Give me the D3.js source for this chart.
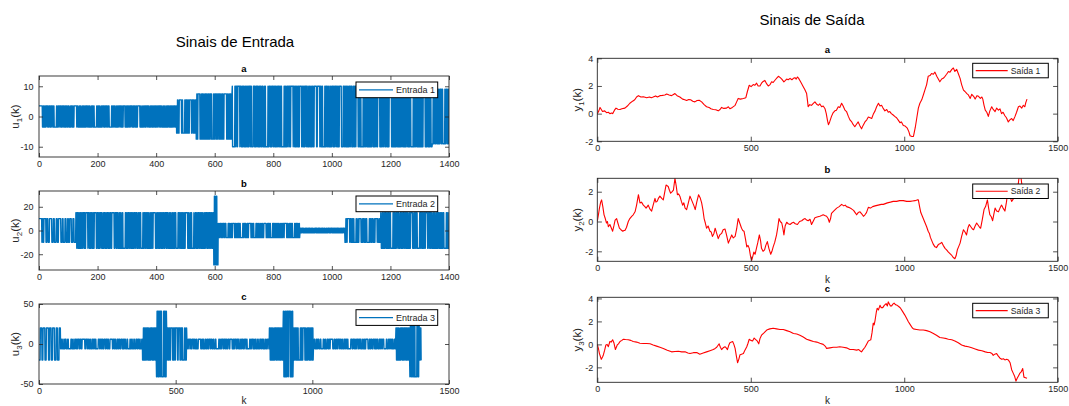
<!DOCTYPE html>
<html>
<head>
<meta charset="utf-8">
<script src="https://cdn.jsdelivr.net/npm/d3@7"></script>
<style>
  body { margin: 0; background: #fff; }
  svg { display: block; font-family: "Liberation Sans", Arial, Helvetica, sans-serif; }
</style>
</head>
<body>
<svg id="fig" width="1069" height="406"></svg>
<script>
// ---------- Sinais de entrada (PRBS com amplitude variável) ----------
// níveis: [k inicial, amplitude]
const entrada1Niveis = [[0, 3.5], [470, 5.5], [537, 7.5], [660, 10], [1343, 9]];
const entrada2Niveis = [[0, 10], [126, 15], [597, 29], [612, 6], [891, 2], [1045, 10], [1167, 15]];
const entrada3Niveis = [[0, 20], [79, 6], [379, 20], [430, 41], [467, 20], [541, 6], [843, 20],
                        [894, 41], [930, 20], [1004, 6], [1306, 20], [1357, 41], [1391, 20]];
// sinal do primeiro patamar de cada entrada
const entradaSinalInicial = [1, 1, -1];
// durações (em amostras, base 36) de cada patamar do sinal binário
const entrada1Runs = "c" + "3232241333221432" + "8" + "233241233133223334123223" + "9" +
  "134222423232232332412332" + "8" + "3322241341233133" + "38" + "2233341213423223" + "6" +
  "3232232314322332" + "38" + "3241332224134123313322333412134222423223323223232332" + "48" +
  "227" + "3232337" + "2413332227" + "41233133223334126" + "134222423223339" + "323223238" +
  "32417" + "14322332332224136" + "412331332233341228" + "13422242322332323228" + "23233241218" +
  "1432233227" + "332224134123313338" + "38" + "23327" + "223334121342224232237" + "6" +
  "3232232332411432317" + "23327" + "233233222413412331337" + "22333412134228" +
  "224232233232232332411432338" + "233233222413227" + "412331337" + "22333412134237" + "22423223";
const entrada2Runs = "a" + "232" + "7" + "345" + "8" + "54644" + "8" + "53645346546" +
  "323223233241" + "13" + "7" + "14322332" + "2" + "7" + "33222413412331332233" + "3" + "8" +
  "341213422242" + "8" + "32233232232332411432" + "3" + "7" + "233233222413" + "32" + "8" +
  "4123313322333412134222423223" + "7" + "32322323" + "23" + "8" + "3241" + "22" + "7" +
  "143223323322241341233133" + "33" + "2233341213422242" + "4" + "7" + "3223" + "23" + "7" +
  "32322323" + "8" + "32411432" + "8" + "2332" + "7" + "33222413" + "34" + "8" + "4123" + "23" + "7" +
  "3133223334121342" + "8" + "22423223" + "7" +
  "323223233241143223323322241341233133223334121342224232233232232332411432" + "8" +
  "2332" + "32" + "7" + "2413" + "7" + "41233133" + "8" + "22333412" + "7" +
  "1342224232233232" + "33" + "8" + "232332411432233233222413" + "7" + "4123" + "33" + "8" +
  "31332233" + "7" + "34121342224232233232" + "33" + "8" + "23233241";
const entrada3Runs = "5" + "6475846576565" +
  "4352" + "3453" + "9" + "3425" + "4332" + "5343" + "a" + "3524" + "4353" + "3432" + "8" + "5342" +
  "3453" + "4235" + "9" + "3423" + "5334" + "4532" + "3453" + "8" + "2435" + "3543" + "4325" + "3" +
  "3232232332411432233233222413" + "7" + "41233133" + "33" + "7" + "2233" + "1" + "7" +
  "3" + "6" + "3412" + "7" + "34" +
  "4352" + "3453" + "3425" + "9" + "4332" + "5343" + "3524" + "4353" + "a" + "3432" + "5342" + "3453" +
  "8" + "4235" + "3423" + "5334" + "4532" + "9" + "3453" + "2435" + "3543" + "4325" + "3452" +
  "3322" + "2413" + "4123" + "3133" + "2233" +
  "3412" + "1342" + "6" + "2242" +
  "3223" + "3232" + "7" + "2323" + "7" + "3241" + "1432" + "2332" +
  "4352" + "3453" + "8" + "3425" + "4332" + "9" + "5343" + "3524" + "4353" + "3432" + "a" + "5342" +
  "3453" + "4235" + "3423" + "8" + "5334" + "4532" + "3453" + "2435" + "9" + "3543" + "4325" + "32" +
  "3322" + "2413" + "4123" + "3133" + "2233" + "1" +
  "3412" + "1342" + "7" + "34" + "3232";

// ---------- Sinais de saída: [k, y(k)] ----------
const saida1 = [[0,0],[5,0.2],[9,0.45],[17,0.15],[24,0.2],[30,0.07],[36,0.1],[41,0],[46,0.05],[50,0],
  [56,0.25],[61,0.4],[67,0.32],[74,0.3],[80,0.35],[90,0.4],[98,0.55],[106,0.75],[115,0.9],[122,1.0],
  [128,1.2],[134,1.3],[142,1.2],[150,1.22],[161,1.15],[170,1.2],[176,1.15],[182,1.2],[190,1.28],[196,1.2],
  [204,1.3],[212,1.32],[220,1.35],[226,1.42],[234,1.35],[242,1.3],[248,1.38],[253,1.45],[260,1.3],[269,1.2],
  [278,1.05],[285,1.0],[291,0.95],[298,1.02],[304,1.0],[311,0.9],[318,0.85],[325,0.95],[332,0.97],[340,0.85],
  [348,0.65],[356,0.5],[364,0.45],[370,0.35],[378,0.3],[386,0.28],[394,0.2],[400,0.3],[405,0.45],[412,0.38],
  [421,0.4],[427,0.5],[432,0.35],[440,0.45],[449,0.6],[454,0.85],[459,1.1],[466,1.05],[476,1.1],[484,1.15],
  [489,1.6],[495,2.05],[501,1.95],[508,2.1],[513,2.05],[519,2.2],[524,2.0],[530,2.0],[535,2.2],[539,2.3],
  [546,2.4],[552,2.15],[557,2.0],[563,2.1],[568,2.3],[573,2.25],[580,2.45],[586,2.6],[590,2.7],[596,2.6],
  [601,2.5],[608,2.3],[613,2.4],[617,2.5],[622,2.45],[628,2.55],[634,2.45],[639,2.55],[644,2.6],[648,2.5],
  [652,2.65],[656,2.55],[660,2.4],[665,2.2],[671,1.95],[676,1.75],[682,1.45],[685,0.9],[687,0.5],[692,0.65],
  [698,0.6],[703,0.72],[709,0.85],[714,0.7],[720,0.6],[725,0.7],[731,0.5],[736,0.55],[742,0.35],[746,0.0],
  [750,-0.5],[753,-0.8],[757,-0.6],[763,-0.2],[768,0.05],[774,0.2],[779,0.25],[785,0.5],[790,0.45],[796,0.75],
  [801,0.55],[807,0.25],[812,0.15],[818,-0.2],[823,-0.45],[829,-0.6],[834,-0.8],[839,-0.95],[845,-0.75],[850,-0.6],
  [855,-0.85],[861,-1.1],[866,-0.85],[872,-0.6],[878,-0.45],[883,-0.25],[889,-0.3],[894,-0.35],[899,-0.05],[905,0.2],
  [910,0.5],[916,0.75],[921,0.55],[926,0.6],[931,0.4],[937,0.2],[943,0.3],[948,0.1],[953,0.15],[958,0.0],
  [964,-0.1],[969,-0.2],[975,-0.3],[980,-0.45],[986,-0.65],[991,-0.6],[997,-0.85],[1003,-0.9],[1010,-1.05],[1015,-1.3],
  [1019,-1.6],[1025,-1.65],[1030,-1.65],[1036,-1.0],[1041,-0.3],[1046,0.4],[1051,0.75],[1057,1.0],[1063,1.4],[1068,1.75],
  [1073,2.1],[1078,2.7],[1084,2.75],[1089,2.9],[1095,2.85],[1100,3.0],[1106,2.7],[1111,2.5],[1116,2.3],[1122,2.5],
  [1127,2.55],[1133,2.7],[1138,2.85],[1144,3.05],[1149,3.0],[1155,3.2],[1160,3.3],[1165,3.05],[1171,3.2],[1176,2.9],
  [1182,2.55],[1187,2.1],[1193,1.7],[1198,1.6],[1204,1.45],[1209,1.35],[1215,1.1],[1220,1.4],[1226,1.25],[1231,1.05],
  [1237,1.3],[1242,1.25],[1248,1.1],[1253,1.2],[1256,1.05],[1260,0.6],[1264,0.25],[1269,0.1],[1274,-0.2],[1279,0.2],
  [1285,0.5],[1290,0.3],[1296,0.15],[1301,0.4],[1307,0.25],[1312,0.35],[1317,0.0],[1322,0.1],[1328,-0.15],[1333,-0.3],
  [1339,-0.6],[1344,-0.45],[1350,-0.35],[1355,-0.5],[1361,-0.2],[1366,0.1],[1372,0.5],[1377,0.55],[1383,0.4],[1388,0.6],
  [1393,0.5],[1396,0.8],[1400,1.05]];
const saida2 = [[0,0],[4,0.5],[7,0.9],[11,1.3],[14,1.45],[18,1.0],[22,0.45],[26,0.2],[30,-0.1],[33,0.0],
  [36,-0.35],[41,-0.2],[46,-0.45],[50,-0.65],[54,-0.3],[58,0.1],[63,0.2],[67,-0.1],[72,-0.45],[77,-0.55],
  [83,-0.65],[87,-0.6],[90,-0.6],[95,-0.4],[101,0.0],[106,0.2],[112,0.35],[117,0.45],[123,0.65],[128,1.1],
  [134,1.8],[139,1.25],[144,1.3],[150,1.1],[155,1.0],[159,0.9],[166,1.1],[171,0.85],[177,0.7],[182,1.1],
  [188,1.55],[191,1.3],[195,1.35],[199,1.55],[204,1.7],[210,1.55],[215,1.45],[220,2.0],[224,2.45],[231,2.35],
  [235,2.1],[239,1.9],[244,2.0],[248,2.1],[253,2.9],[257,2.4],[261,1.8],[265,1.85],[269,1.7],[274,1.35],
  [278,1.1],[282,1.25],[286,0.9],[291,0.8],[296,1.2],[302,1.7],[306,1.5],[311,1.25],[315,1.05],[319,0.8],
  [324,1.3],[330,1.8],[335,1.6],[340,1.25],[344,0.8],[348,0.2],[352,-0.1],[356,-0.45],[361,-0.3],[367,-0.65],
  [371,-0.7],[375,-1.0],[380,-0.8],[384,-0.45],[389,-0.8],[394,-1.15],[399,-0.9],[405,-0.8],[410,-0.55],[416,-0.5],
  [421,-0.9],[427,-1.45],[432,-1.2],[438,-0.9],[443,-1.1],[449,-1.0],[454,-0.5],[459,0.2],[464,-0.1],[470,-0.45],
  [474,-0.6],[478,-0.65],[483,-1.2],[487,-1.7],[491,-1.6],[495,-1.8],[499,-2.3],[503,-2.6],[507,-2.3],[510,-2.05],
  [514,-2.2],[519,-1.75],[523,-1.4],[528,-0.9],[532,-1.3],[535,-1.8],[540,-2.0],[545,-1.9],[549,-1.6],[554,-1.35],
  [559,-1.8],[565,-2.2],[569,-2.0],[573,-1.7],[578,-1.4],[584,-0.9],[588,-0.4],[592,0.2],[596,0.0],[601,-0.1],
  [605,-0.5],[608,-0.9],[612,-0.3],[617,-0.05],[622,-0.15],[628,-0.2],[634,-0.1],[639,-0.05],[645,-0.15],[652,-0.2],
  [659,0.0],[666,0.05],[672,0.15],[677,0.2],[682,0.1],[687,0.05],[693,0.15],[698,-0.2],[703,0.0],[709,0.25],
  [716,0.3],[725,0.35],[731,0.4],[736,0.45],[741,0.4],[747,0.35],[752,0.2],[756,-0.05],[760,0.2],[763,0.55],
  [770,0.7],[775,0.8],[780,0.9],[788,1.0],[796,1.15],[803,1.05],[808,1.1],[812,1.0],[819,0.95],[828,0.85],
  [835,0.75],[840,0.6],[845,0.45],[850,0.6],[856,0.65],[862,0.5],[867,0.35],[872,0.45],[877,0.6],[883,0.95],
  [890,0.9],[897,1.0],[905,1.05],[915,1.1],[925,1.15],[932,1.15],[945,1.25],[955,1.3],[964,1.35],[975,1.35],
  [985,1.4],[997,1.4],[1008,1.35],[1019,1.35],[1027,1.38],[1035,1.4],[1042,1.45],[1046,1.45],[1050,1.0],[1054,0.6],
  [1057,0.45],[1062,0.2],[1068,-0.1],[1073,-0.35],[1078,-0.65],[1082,-0.8],[1085,-1.05],[1089,-1.25],[1094,-1.5],[1100,-1.7],
  [1105,-1.75],[1111,-1.55],[1116,-1.5],[1122,-1.4],[1127,-1.6],[1133,-1.8],[1138,-1.9],[1144,-2.05],[1149,-2.15],[1154,-2.25],
  [1159,-2.4],[1165,-2.5],[1169,-2.3],[1173,-1.9],[1177,-1.7],[1182,-1.45],[1187,-1.0],[1193,-0.55],[1198,-0.7],[1203,-0.9],
  [1208,-0.4],[1212,-0.2],[1217,-0.35],[1222,-0.5],[1226,-0.55],[1231,-0.3],[1236,-0.1],[1241,-0.25],[1246,-0.4],[1249,-0.45],
  [1254,0.1],[1260,0.8],[1265,1.0],[1271,1.45],[1275,0.9],[1279,0.45],[1284,0.3],[1288,0.05],[1292,0.5],[1296,0.9],
  [1301,0.7],[1307,0.65],[1312,0.9],[1317,1.1],[1322,0.9],[1328,0.7],[1333,1.3],[1339,2.25],[1344,1.7],[1350,1.35],
  [1355,1.5],[1361,1.8],[1366,2.0],[1372,2.6],[1376,3.3],[1380,3.0],[1385,2.2],[1390,1.9],[1395,1.6],[1400,1.8]];
const saida3 = [[0,0],[4,-0.4],[7,-0.8],[13,-1.3],[17,-1.1],[20,-0.9],[24,-0.5],[28,-0.05],[32,0.0],[36,-0.2],
  [41,0.25],[45,0.2],[50,0.4],[54,0.15],[59,-0.45],[65,-0.05],[69,0.05],[74,0.25],[80,0.35],[85,0.45],
  [92,0.42],[101,0.4],[109,0.35],[117,0.25],[128,0.2],[139,0.1],[150,0.08],[161,0.08],[172,0.05],[182,-0.05],
  [193,-0.15],[204,-0.25],[215,-0.35],[228,-0.5],[242,-0.65],[253,-0.62],[264,-0.6],[275,-0.65],[286,-0.65],[295,-0.75],
  [302,-0.8],[313,-0.72],[324,-0.7],[334,-0.85],[345,-0.75],[356,-0.65],[367,-0.55],[378,-0.45],[384,-0.35],[389,-0.25],
  [393,-0.1],[397,0.05],[401,-0.25],[405,-0.45],[410,-0.3],[416,-0.2],[420,-0.3],[424,-0.45],[428,-0.1],[432,0.15],
  [437,0.2],[441,0.25],[445,0.0],[449,-0.35],[453,-1.0],[457,-1.6],[461,-1.3],[465,-0.9],[470,-0.85],[476,-0.8],
  [481,-0.5],[487,-0.2],[491,0.1],[495,0.45],[500,0.35],[506,0.3],[511,0.55],[517,0.4],[521,0.3],[526,0.05],
  [530,0.5],[535,0.8],[543,1.0],[552,1.25],[562,1.35],[573,1.4],[584,1.35],[595,1.3],[606,1.3],[617,1.2],
  [628,1.1],[639,0.95],[650,0.9],[660,0.8],[671,0.65],[682,0.45],[693,0.35],[704,0.25],[715,0.2],[725,0.1],
  [736,0.0],[744,-0.2],[747,-0.35],[758,-0.3],[769,-0.25],[780,-0.25],[790,-0.2],[801,-0.25],[812,-0.3],[823,-0.45],
  [834,-0.45],[845,-0.5],[852,-0.45],[858,-0.6],[861,-0.65],[866,-0.45],[872,-0.25],[877,0.0],[883,0.3],[887,0.35],
  [891,0.4],[895,1.0],[899,1.85],[902,1.7],[905,2.1],[909,2.8],[912,3.15],[916,3.0],[921,3.4],[925,3.2],
  [930,3.2],[935,3.4],[941,3.55],[945,3.35],[948,3.7],[952,3.5],[955,3.35],[959,3.35],[963,3.5],[967,3.6],
  [972,3.45],[977,3.4],[982,3.3],[988,3.15],[995,2.85],[1002,2.55],[1008,2.25],[1013,2.0],[1020,1.7],[1026,1.45],
  [1030,1.35],[1040,1.3],[1051,1.25],[1062,1.25],[1073,1.2],[1084,1.1],[1095,0.95],[1105,0.8],[1116,0.6],[1127,0.55],
  [1138,0.5],[1144,0.45],[1155,0.4],[1165,0.3],[1176,0.15],[1187,-0.05],[1198,-0.15],[1209,-0.2],[1220,-0.3],[1231,-0.4],
  [1242,-0.5],[1253,-0.55],[1264,-0.65],[1272,-0.7],[1279,-0.7],[1286,-0.8],[1290,-0.95],[1295,-0.85],[1301,-0.8],[1306,-1.0],
  [1312,-1.2],[1318,-1.3],[1323,-1.25],[1328,-1.35],[1334,-1.3],[1339,-1.35],[1345,-1.6],[1350,-2.2],[1355,-2.5],[1360,-2.8],
  [1364,-3.2],[1368,-2.95],[1373,-2.7],[1377,-2.5],[1381,-2.4],[1386,-2.1],[1390,-2.85],[1395,-2.9],[1400,-2.95]];

// ---------- Eixos e rótulos ----------
const ticksK1400 = [0, 200, 400, 600, 800, 1000, 1200, 1400];
const ticksK1500 = [0, 500, 1000, 1500];
const ticksU1 = [-10, 0, 10];
const ticksU2 = [-20, 0, 20];
const ticksU3 = [-50, 0, 50];
const ticksY1 = [-2, 0, 2, 4];
const ticksY2 = [-2, 0, 2];
const ticksY3 = [-2, 0, 2, 4];
const rotulosEntrada = ["Entrada 1", "Entrada 2", "Entrada 3"];
const rotulosSaida = ["Saída 1", "Saída 2", "Saída 3"];
const letrasPainel = ["a", "b", "c"];

// reconstrói a sequência amostrada u(k) a partir dos patamares
function montarSinal(niveis, runs, sinal0, kFim) {
  const pts = [];
  let k = 0, s = sinal0;
  for (const c of runs) {
    const n = parseInt(c, 36);
    for (let i = 0; i < n && k <= kFim; i++, k++) {
      let amp = niveis[0][1];
      for (const nv of niveis) if (nv[0] <= k) amp = nv[1];
      pts.push([k, s * amp]);
    }
    s = -s;
    if (k > kFim) break;
  }
  return pts;
}

const entradas = [
  montarSinal(entrada1Niveis, entrada1Runs, entradaSinalInicial[0], 1400),
  montarSinal(entrada2Niveis, entrada2Runs, entradaSinalInicial[1], 1400),
  montarSinal(entrada3Niveis, entrada3Runs, entradaSinalInicial[2], 1400)
];

const AZUL = "#0072BD", VERMELHO = "#FF0000", EIXO = "#262626";
const svg = d3.select("#fig");

function desenharPainel(p, i) {
  const x = d3.scaleLinear().domain(p.xDom).range([p.x0, p.x1]);
  const y = d3.scaleLinear().domain(p.yDom).range([p.y1, p.y0]);
  const g = svg.append("g");
  const clipId = "clip" + i;
  svg.append("clipPath").attr("id", clipId).append("rect")
    .attr("x", p.x0).attr("y", p.y0).attr("width", p.x1 - p.x0).attr("height", p.y1 - p.y0);

  g.append("path").datum(p.dados)
    .attr("clip-path", `url(#${clipId})`)
    .attr("fill", "none").attr("stroke", p.cor).attr("stroke-width", p.esp)
    .attr("stroke-linejoin", "round")
    .attr("d", d3.line().x(d => x(d[0])).y(d => y(d[1])));

  const tl = p.tick;
  const fmt = d => String(d);
  const eixo = (gen, tr) => {
    const a = g.append("g").attr("transform", tr).call(gen);
    a.select(".domain").remove();
    a.attr("font-family", null).attr("font-size", 9);
    a.selectAll(".tick line").attr("stroke", EIXO).attr("stroke-width", 0.8);
    a.selectAll(".tick text").attr("fill", EIXO);
    return a;
  };
  eixo(d3.axisBottom(x).tickValues(p.xTicks).tickFormat(fmt).tickSize(-tl).tickSizeOuter(0).tickPadding(3.5),
       `translate(0,${p.y1})`);
  eixo(d3.axisTop(x).tickValues(p.xTicks).tickFormat("").tickSize(-tl).tickSizeOuter(0),
       `translate(0,${p.y0})`);
  eixo(d3.axisLeft(y).tickValues(p.yTicks).tickFormat(fmt).tickSize(-tl).tickSizeOuter(0).tickPadding(p.padY),
       `translate(${p.x0},0)`);
  eixo(d3.axisRight(y).tickValues(p.yTicks).tickFormat("").tickSize(-tl).tickSizeOuter(0),
       `translate(${p.x1},0)`);

  g.append("rect").attr("x", p.x0).attr("y", p.y0)
    .attr("width", p.x1 - p.x0).attr("height", p.y1 - p.y0)
    .attr("fill", "none").attr("stroke", EIXO).attr("stroke-width", 0.9);

  // letra do subgráfico
  g.append("text").attr("x", (p.x0 + p.x1) / 2).attr("y", p.y0 - p.tituloGap)
    .attr("text-anchor", "middle").attr("font-weight", "bold").attr("font-size", 9.5)
    .attr("fill", "#000").text(p.letra);

  // rótulo vertical
  const t = g.append("text")
    .attr("transform", `translate(${p.yLabX},${(p.y0 + p.y1) / 2}) rotate(-90)`)
    .attr("text-anchor", "middle").attr("font-size", 11.5).attr("fill", EIXO);
  t.append("tspan").text(p.yBase);
  t.append("tspan").attr("font-size", 8).attr("dy", 2.8).text(p.ySub);
  t.append("tspan").attr("dy", -2.8).text("(k)");

  if (p.xLabY) {
    g.append("text").attr("x", (p.x0 + p.x1) / 2).attr("y", p.xLabY)
      .attr("text-anchor", "middle").attr("font-size", 10).attr("fill", EIXO).text("k");
  }

  // legenda
  const lx = p.x1 - p.legDir - p.legW, ly = p.y0 + p.legTopo;
  const lg = g.append("g");
  lg.append("rect").attr("x", lx).attr("y", ly).attr("width", p.legW).attr("height", p.legH)
    .attr("fill", "#fff").attr("stroke", "#000").attr("stroke-width", 1);
  lg.append("line").attr("x1", lx + 3).attr("x2", lx + p.legLinha)
    .attr("y1", ly + p.legH / 2).attr("y2", ly + p.legH / 2)
    .attr("stroke", p.cor).attr("stroke-width", 1.2);
  lg.append("text").attr("x", lx + p.legLinha + 3).attr("y", ly + p.legH / 2)
    .attr("dy", "0.35em").attr("font-size", p.legFonte).attr("fill", EIXO).text(p.leg);
}

const esq = { x0: 39, x1: 449, tick: 4, padY: 5.5, yLabX: 19, tituloGap: 4, cor: AZUL, esp: 1.4,
              legW: 81.7, legH: 15.7, legDir: 11.3, legLinha: 37, legFonte: 9 };
const dir = { x0: 597.3, x1: 1057.7, tick: 4.6, padY: 4, yLabX: 581, tituloGap: 5, cor: VERMELHO, esp: 1.1,
              legW: 75.6, legH: 14.5, legDir: 9.4, legLinha: 35, legFonte: 8.6 };

const paineis = [
  Object.assign({}, esq, { y0: 76, y1: 157, xDom: [0, 1400], yDom: [-13.4, 13.4], xTicks: ticksK1400, yTicks: ticksU1,
    dados: entradas[0], letra: letrasPainel[0], yBase: "u", ySub: "1", leg: rotulosEntrada[0], legTopo: 6 }),
  Object.assign({}, esq, { y0: 191, y1: 270, xDom: [0, 1400], yDom: [-33.3, 33.3], xTicks: ticksK1400, yTicks: ticksU2,
    dados: entradas[1], letra: letrasPainel[1], yBase: "u", ySub: "2", leg: rotulosEntrada[1], legTopo: 5 }),
  Object.assign({}, esq, { y0: 304, y1: 384, xDom: [0, 1500], yDom: [-50, 50], xTicks: ticksK1500, yTicks: ticksU3,
    dados: entradas[2], letra: letrasPainel[2], yBase: "u", ySub: "3", leg: rotulosEntrada[2], legTopo: 5.7, xLabY: 404 }),
  Object.assign({}, dir, { y0: 58.3, y1: 141.3, xDom: [0, 1500], yDom: [-2, 4], xTicks: ticksK1500, yTicks: ticksY1,
    dados: saida1, letra: letrasPainel[0], yBase: "y", ySub: "1", leg: rotulosSaida[0], legTopo: 5 }),
  Object.assign({}, dir, { y0: 178.3, y1: 261.3, xDom: [0, 1500], yDom: [-2.67, 2.9], xTicks: ticksK1500, yTicks: ticksY2,
    dados: saida2, letra: letrasPainel[1], yBase: "y", ySub: "2", leg: rotulosSaida[1], legTopo: 5.7, xLabY: 282.5 }),
  Object.assign({}, dir, { y0: 297.3, y1: 382.3, xDom: [0, 1500], yDom: [-3.3, 4.1], xTicks: ticksK1500, yTicks: ticksY3,
    dados: saida3, letra: letrasPainel[2], yBase: "y", ySub: "3", leg: rotulosSaida[2], legTopo: 6, xLabY: 404 })
];

paineis.forEach(desenharPainel);

// títulos das colunas
svg.append("text").attr("x", 235).attr("y", 47).attr("text-anchor", "middle")
  .attr("font-size", 15).attr("fill", "#000").text("Sinais de Entrada");
svg.append("text").attr("x", 812).attr("y", 25).attr("text-anchor", "middle")
  .attr("font-size", 15).attr("fill", "#000").text("Sinais de Saída");
</script>
</body>
</html>
